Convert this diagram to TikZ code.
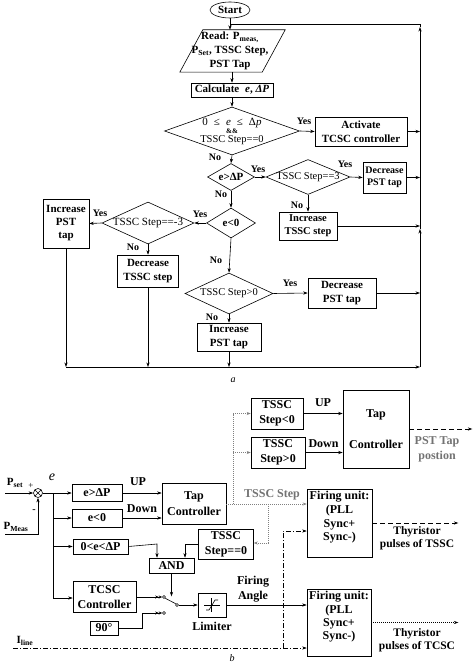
\documentclass[tikz,border=0pt]{standalone}
\usepackage{fontspec}
\setmainfont{Liberation Serif}
\usetikzlibrary{shapes.geometric,arrows.meta,calc}
\begin{document}
\begin{tikzpicture}[x=1pt,y=-1pt,
  lw/.style={line width=0.6pt},
  arr/.style={lw,-{Stealth[length=4.5pt,width=3.2pt]}},
  darr/.style={lw,-{Stealth[length=3.5pt,width=3pt] Stealth[length=3.5pt,width=3pt]}},
  box/.style={draw,lw,inner sep=0pt,align=center,font=\bfseries\fontsize{11}{13.5}\selectfont},
  boxb/.style={draw,lw,inner sep=0pt,align=center,font=\bfseries\fontsize{12}{15}\selectfont},
  dia/.style={draw,lw,diamond,inner sep=0pt},
  dtx/.style={inner sep=0pt,align=center,font=\fontsize{10.5}{12}\selectfont},
  dtb/.style={inner sep=0pt,align=center,font=\bfseries\fontsize{11}{12}\selectfont},
  lbl/.style={inner sep=0pt,font=\bfseries\fontsize{10}{12}\selectfont},
  lblb/.style={inner sep=0pt,align=center,font=\bfseries\fontsize{12}{15}\selectfont},
  lbls/.style={inner sep=0pt,align=center,font=\bfseries\fontsize{11.5}{13}\selectfont},
  contact/.style={circle,draw,lw,inner sep=0pt,minimum size=3pt},
  dotg/.style={lw,black!50,dash pattern=on 1pt off 1pt},
  dotk/.style={lw,dash pattern=on 1pt off 1pt},
  dashk/.style={lw,dash pattern=on 5pt off 3pt},
  dashdot/.style={lw,dash pattern=on 5pt off 2pt on 1pt off 2pt},
]
\useasboundingbox (0,0) rectangle (474,666);
\fill[white] (0,0) rectangle (474,666);

% ---------------- part a ----------------
\node[draw,lw,ellipse,minimum width=40,minimum height=16,inner sep=0pt,font=\bfseries\fontsize{11}{13}\selectfont] (start) at (230,10) {Start};
\node[minimum width=82,minimum height=42,inner sep=0pt] (readbox) at (232.5,51) {};
\draw[lw] ($(readbox.south west)+(-11.5,0)$) -- ($(readbox.south east)+(-11.5,0)$)
  -- ($(readbox.north east)+(11.5,0)$) -- ($(readbox.north west)+(11.5,0)$) -- cycle;
\node[inner sep=0pt,align=center,font=\bfseries\fontsize{11}{14}\selectfont] (readt) at (230,51) {Read: P\textsubscript{meas,}\\P\textsubscript{Set}, TSSC Step,\\PST Tap};
\node[box,minimum width=82,minimum height=14] (calc) at (232,90) {Calculate \;\textit{e}, \textit{ΔP}};

\node[dia,minimum width=135,minimum height=48] (d1) at (232,131) {};
\node[inner sep=0pt,font=\fontsize{11}{12}\selectfont] (d1a) at (232,123.5) {0\hspace{6pt}≤\hspace{6pt}\textit{e}\hspace{6pt}≤\hspace{6pt}Δ\textit{p}};
\node[inner sep=0pt,font=\bfseries\fontsize{7}{8}\selectfont] (d1b) at (232,131.5) {\&\&};
\node[dtx] (d1c) at (232,140.5) {TSSC Step==0};
\node[lbl] (y1) at (304,121) {Yes};
\node[box,minimum width=92,minimum height=29] (act) at (361,131.5) {Activate\\TCSC controller};
\node[lbl] (n1) at (215,157) {No};

\node[dia,minimum width=47,minimum height=27] (d2) at (231,177) {};
\node[dtb] (d2t) at (d2) {e>ΔP};
\node[lbl] (y2) at (258,169) {Yes};
\node[dia,minimum width=84,minimum height=35] (d3) at (308,177) {};
\node[dtx] (d3t) at (d3) {TSSC Step==3};
\node[lbl] (y3) at (345,164) {Yes};
\node[box,minimum width=43,minimum height=31,font=\bfseries\fontsize{10}{12.5}\selectfont] (dec1) at (384.5,177.5) {Decrease\\PST tap};
\node[lbl] (n3) at (297,205) {No};
\node[box,minimum width=58,minimum height=28,font=\bfseries\fontsize{10.5}{13}\selectfont] (inc1) at (308,226) {Increase\\TSSC step};
\node[lbl] (n2) at (221,194) {No};

\node[dia,minimum width=49,minimum height=30] (d4) at (231,223) {};
\node[dtb] (d4t) at (d4) {e<0};
\node[lbl] (y4) at (200,214) {Yes};
\node[dia,minimum width=92,minimum height=42] (d5) at (148,223) {};
\node[dtx,font=\fontsize{11}{12}\selectfont] (d5t) at (d5) {TSSC Step==-3};
\node[lbl] (y5) at (100,213) {Yes};
\node[box,minimum width=46,minimum height=49,font=\bfseries\fontsize{11}{13}\selectfont] (incpst1) at (66,223.5) {Increase\\PST\\tap};
\node[lbl] (n5) at (133,247) {No};
\node[box,minimum width=61,minimum height=32] (dectssc) at (148,271) {Decrease\\TSSC step};
\node[lbl] (n4) at (216,260) {No};

\node[dia,minimum width=88,minimum height=41] (d6) at (229,293.5) {};
\node[dtx] (d6t) at (d6) {TSSC Step>0};
\node[lbl] (y6) at (290,283) {Yes};
\node[box,minimum width=68,minimum height=30] (dec2) at (342,293) {Decrease\\PST tap};
\node[lbl] (n6) at (212,317) {No};
\node[box,minimum width=64,minimum height=28] (inc2) at (229,337) {Increase\\PST tap};
\node[inner sep=0pt,font=\itshape\fontsize{10}{12}\selectfont] (cap_a) at (233,380) {a};

\coordinate (J) at (230,24);
\coordinate (RT) at (420,24);
\coordinate (RB) at (420,367);
\coordinate (LB) at (66,367);
\coordinate (RM) at (420,229);
\coordinate (RU) at (420,27);

\draw[arr] (start.south) -- (start.south |- readbox.north);
\draw[arr] (calc.north |- readbox.south) -- (calc.north);
\draw[arr] (calc.south) -- (d1.north);
\draw[arr] (d1.east) -- (act.west);
\draw[arr] (act.east) -- (act.east -| RT);
\draw[arr] (d1.south) -- (d2.north);
\draw[arr] (d2.east) -- (d3.west);
\draw[arr] (d3.east) -- (dec1.west);
\draw[arr] (dec1.east) -- (dec1.east -| RT);
\draw[arr] (d3.south) -- (inc1.north);
\draw[arr] (inc1.east) -- (inc1.east -| RT);
\draw[arr] (d2.south) -- (d4.north);
\draw[arr] (d4.west) -- (d5.east);
\draw[arr] (d5.west) -- (incpst1.east);
\draw[arr] (d5.south) -- (dectssc.north);
\draw[arr] (d4.south) -- (d6.north);
\draw[arr] (d6.east) -- (dec2.west);
\draw[arr] (dec2.east) -- (dec2.east -| RT);
\draw[arr] (d6.south) -- (inc2.north);
\draw[arr] (incpst1.south) -- (incpst1.south |- LB);
\draw[arr] (dectssc.south) -- (dectssc.south |- LB);
\draw[arr] (inc2.south) -- (inc2.south |- LB);
\draw[arr] (LB) -- (RB);
\draw[arr] (RB) -- (RM);
\draw[arr] (RM) -- (RU);
\draw[lw] (RU) -- (RT) -- (J);

% ---------------- part b ----------------
\node[inner sep=0pt,font=\bfseries\fontsize{11}{12}\selectfont] (pset) at (15,483) {P\textsubscript{set}};
\node[inner sep=0pt,font=\fontsize{9}{10}\selectfont] (plus) at (31,486) {+};
\node[circle,draw,lw,minimum size=9pt,inner sep=0pt,
  path picture={\draw[lw] (path picture bounding box.north west) -- (path picture bounding box.south east)
                 (path picture bounding box.north east) -- (path picture bounding box.south west);}] (sum) at (38,493) {};
\node[inner sep=0pt,font=\bfseries\fontsize{10}{12}\selectfont] (minus) at (34,511) {-};
\node[inner sep=0pt,font=\bfseries\fontsize{11}{12}\selectfont] (pmeas) at (16,527) {P\textsubscript{Meas}};
\node[inner sep=0pt,font=\itshape\fontsize{14}{15}\selectfont] (elbl) at (52,477) {e};
\coordinate (pin) at (5,493);
\coordinate (pm) at (5,534);
\coordinate (pmc) at (38,534);
\coordinate (br) at (53,493);
\coordinate (brb) at (53,598);

\node[boxb,minimum width=50,minimum height=17] (gt) at (97,493) {e>ΔP};
\node[boxb,minimum width=50,minimum height=18] (lt) at (97,518) {e<0};
\node[boxb,minimum width=55,minimum height=15] (rng) at (100.5,546.5) {0<e<ΔP};
\node[boxb,minimum width=63,minimum height=31] (tcsc) at (104.5,597) {TCSC\\Controller};
\node[boxb,minimum width=28,minimum height=14] (n90) at (104,628) {90°};
\node[boxb,minimum width=64,minimum height=41,font=\bfseries\fontsize{12}{16}\selectfont] (tap1) at (194,503.5) {Tap\\Controller};
\node[lblb] (up1) at (138,482) {UP};
\node[lblb] (down1) at (142,509) {Down};

\node[boxb,minimum width=52,minimum height=31] (stlt) at (277,413.5) {TSSC\\Step<0};
\node[boxb,minimum width=54,minimum height=31] (stgt) at (278,452.5) {TSSC\\Step>0};
\node[boxb,minimum width=66,minimum height=78] (tap2) at (376,429) {Tap\\[16pt]Controller};
\node[lblb] (up2) at (323,403) {UP};
\node[lblb] (down2) at (323.5,444) {Down};
\node[lblb,text=black!55] (psttap) at (437,449.5) {PST Tap\\postion};

\node[draw,lw,minimum width=65,minimum height=68,inner sep=0pt] (fu1) at (339.5,523) {};
\node[inner sep=0pt,align=center,font=\bfseries\fontsize{12}{13.7}\selectfont] (fu1t) at (339.5,517.5) {Firing unit:\\(PLL\\Sync+\\Sync-)};
\node[draw,lw,minimum width=64,minimum height=67,inner sep=0pt] (fu2) at (339,622.5) {};
\node[inner sep=0pt,align=center,font=\bfseries\fontsize{12}{13.4}\selectfont] (fu2t) at (339,617) {Firing unit:\\(PLL\\Sync+\\Sync-)};
\node[lbls] (thy1) at (417,538.5) {Thyristor\\pulses of TSSC};
\node[lbls] (thy2) at (417,640.5) {Thyristor\\pulses of TCSC};
\node[lblb,text=black!55] (tsscstep) at (272,495) {TSSC Step};

\node[boxb,minimum width=55,minimum height=30] (st0) at (226,544) {TSSC\\Step==0};
\node[boxb,minimum width=45,minimum height=15] (and) at (171.5,565.5) {AND};

\node[contact] (c1) at (164,597) {};
\node[contact] (c2) at (164,613) {};
\node[contact] (c3) at (177,605) {};
\node[draw,lw,minimum width=28,minimum height=24,inner sep=0pt] (lim) at (212,605) {};
\node[lblb] (limlbl) at (212,626) {Limiter};
\node[lblb] (fang) at (253,589.5) {Firing\\Angle};
\node[inner sep=0pt,font=\bfseries\fontsize{11}{12}\selectfont] (iline) at (25,641) {I\textsubscript{line}};
\node[inner sep=0pt,font=\itshape\fontsize{10}{12}\selectfont] (cap_b) at (232,658) {b};

% limiter symbol
\draw[lw] (lim.center) ++(-1,-7) -- ++(0,14);
\draw[lw] (lim.center) ++(-8,0) -- ++(16,0);
\draw[lw] (lim.center) ++(-6,5) -- ++(3,0) -- ++(6,-10) -- ++(3,0);

% connectors b
\draw[arr] (pin) -- (sum.west);
\draw[arr] (pm) -- (pmc) -- (sum.south);
\draw[arr] (sum.east) -- (gt.west);
\draw[lw] (br) -- (brb);
\draw[arr] (br |- lt.west) -- (lt.west);
\draw[arr] (br |- rng.west) -- (rng.west);
\draw[arr] (brb) -- (brb -| tcsc.west);
\draw[arr] (gt.east) -- (gt.east -| tap1.west);
\draw[arr] (lt.east) -- (lt.east -| tap1.west);

\coordinate (ga) at (233,504);
\coordinate (gb) at (268,504);
\coordinate (gc) at (268,543);
\draw[dotg,-{Stealth[length=4pt,width=3pt]}] (tap1.east |- ga) -- (ga -| fu1.west);
\draw[dotg] (ga) -- (ga |- stlt.west);
\draw[dotg,-{Stealth[length=4pt,width=3pt]}] (ga |- stlt.west) -- (stlt.west);
\draw[dotg,-{Stealth[length=4pt,width=3pt]}] (ga |- stgt.west) -- (stgt.west);
\draw[dotg,-{Stealth[length=4pt,width=3pt]}] (gb) -- (gc) -- (gc -| st0.east);

\draw[arr] (stlt.east) -- (stlt.east -| tap2.west);
\draw[arr] (stgt.east) -- (stgt.east -| tap2.west);
\draw[dashk,-{Stealth[length=4.5pt,width=3.2pt]}] (tap2.east) -- ++(63,0) coordinate (pstend);

\coordinate (a1) at (157,544);
\coordinate (a2) at (185,544);
\draw[arr] (rng.east) -- (a1) -- (a1 |- and.north);
\draw[arr] (st0.west) -- (a2) -- (a2 |- and.north);
\draw[arr] (and.south) -- ++(0,23) coordinate (andend);

\draw[darr] (tcsc.east |- c1) -- (c1.west);
\coordinate (k1) at (142,628);
\coordinate (k2) at (142,613);
\draw[darr] (n90.east) -- (k1) -- (k2) -- (c2.west);
\draw[lw] (c1.south east) -- (c3.north west);
\draw[arr] (c3.east) -- (lim.west |- c3);
\draw[arr] (lim.east |- c3) -- (c3 -| fu2.west);

\draw[dashk,-{Stealth[length=4.5pt,width=3.2pt]}] (fu1.east) -- ++(86,0) coordinate (thy1end);
\draw[dotk,-{Stealth[length=4.5pt,width=3.2pt]}] (fu2.east) -- ++(87,0) coordinate (thy2end);

\coordinate (il) at (13,648);
\coordinate (ik) at (283,648);
\coordinate (iu) at (283,531);
\draw[dashdot,-{Stealth[length=4.5pt,width=3.2pt]}] (il) -- (il -| fu2.west);
\draw[dashdot,-{Stealth[length=4.5pt,width=3.2pt]}] (ik) -- (iu) -- (iu -| fu1.west);
\end{tikzpicture}
\end{document}
